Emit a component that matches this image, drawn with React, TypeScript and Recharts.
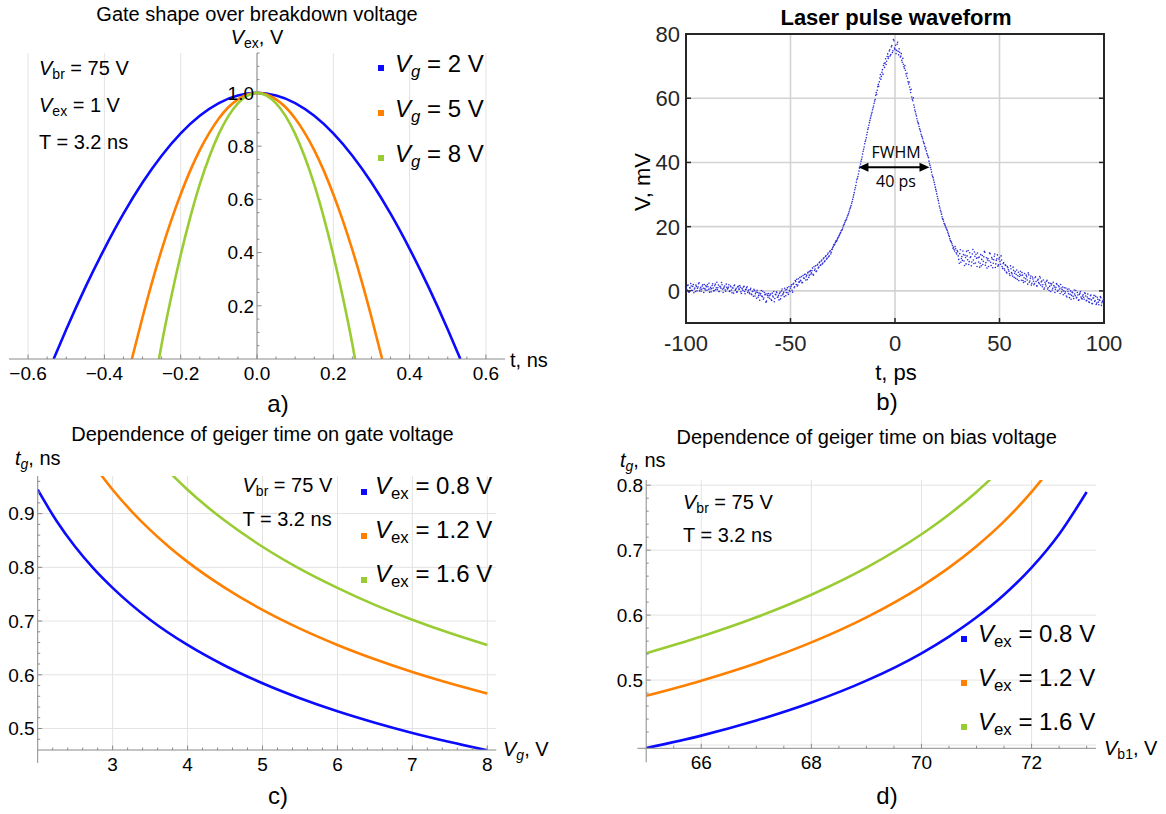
import React from "react"
import {
  CartesianGrid,
  Legend,
  Line,
  LineChart,
  ReferenceDot,
  ReferenceLine,
  Scatter,
  ScatterChart,
  XAxis,
  YAxis,
} from "recharts"

const FONT = '"Liberation Sans", Arial, Helvetica, sans-serif'
const AXIS = "#8a8a8a"
const GRID = "#e3e3e3"
const BOX = "#262626"
const BLUE = "#0b0bff"
const ORANGE = "#ff8000"
const GREEN = "#99cc33"
const DOT = "#2b2bd9"

// a) gate shape, t in ns -> Vex in V
const gateTimeVg2 = [-0.533, -0.5, -0.45, -0.4, -0.35, -0.3, -0.25, -0.2, -0.15, -0.1, -0.05, 0, 0.05, 0.1, 0.15, 0.2, 0.25, 0.3, 0.35, 0.4, 0.45, 0.5, 0.533]
const gateVexVg2 = [0, 0.111, 0.269, 0.414, 0.546, 0.663, 0.764, 0.848, 0.914, 0.962, 0.99, 1, 0.99, 0.962, 0.914, 0.848, 0.764, 0.663, 0.546, 0.414, 0.269, 0.111, 0]
const gateTimeVg5 = [-0.328, -0.3, -0.275, -0.25, -0.225, -0.2, -0.175, -0.15, -0.125, -0.1, -0.075, -0.05, -0.025, 0, 0.025, 0.05, 0.075, 0.1, 0.125, 0.15, 0.175, 0.2, 0.225, 0.25, 0.275, 0.3, 0.328]
const gateVexVg5 = [0, 0.157, 0.289, 0.41, 0.52, 0.619, 0.708, 0.785, 0.85, 0.904, 0.946, 0.976, 0.994, 1, 0.994, 0.976, 0.946, 0.904, 0.85, 0.785, 0.708, 0.619, 0.52, 0.41, 0.289, 0.157, 0]
const gateTimeVg8 = [-0.257, -0.25, -0.225, -0.2, -0.175, -0.15, -0.125, -0.1, -0.075, -0.05, -0.025, 0, 0.025, 0.05, 0.075, 0.1, 0.125, 0.15, 0.175, 0.2, 0.225, 0.25, 0.257]
const gateVexVg8 = [0, 0.055, 0.232, 0.391, 0.532, 0.656, 0.76, 0.846, 0.913, 0.961, 0.99, 1, 0.99, 0.961, 0.913, 0.846, 0.76, 0.656, 0.532, 0.391, 0.232, 0.055, 0]

const aXMajor = [-0.6, -0.4, -0.2, 0, 0.2, 0.4, 0.6]
const aXMinor = [-0.55, -0.5, -0.45, -0.35, -0.3, -0.25, -0.15, -0.1, -0.05, 0.05, 0.1, 0.15, 0.25, 0.3, 0.35, 0.45, 0.5, 0.55]
const aYMajor = [0.2, 0.4, 0.6, 0.8, 1.0]
const aYMinor = [0.05, 0.1, 0.15, 0.25, 0.3, 0.35, 0.45, 0.5, 0.55, 0.65, 0.7, 0.75, 0.85, 0.9, 0.95, 1.05, 1.1, 1.15]

// b) laser pulse, two oscilloscope passes, values in mV
// pass 1 sampled every 0.5 ps from -100 ps, pass 2 every 0.5 ps from -99.75 ps
const pulseStepPs = 0.5
const pulseFirstPs1 = -100
const pulseMv1 = [
  1.2, 0.3, 1.8, -0.4, 0.9, 1.5, 0.1, 2.0, 0.6, -0.2, 1.4, 0.8, 2.2, 0.0, 1.1, 0.5, 1.9, -0.5, 0.7, 1.6,
  0.2, 1.3, 2.4, 0.6, -0.3, 1.7, 0.9, 0.1, 2.1, 1.0, 0.4, 1.8, -0.2, 1.2, 2.6, 0.5, 0.8, 1.5, -0.1, 1.1,
  0.7, 1.9, 0.0, 1.3, -0.6, 0.9, 1.6, 0.2, 0.8, -0.3, 1.4, 0.5, 1.1, -0.8, 0.6, 1.2, -0.2, 0.4, 1.0, -0.5,
  0.3, -0.9, 0.8, -1.2, -0.1, 0.5, -1.6, -0.4, 0.2, -2.0, -0.7, -1.3, 0.1, -1.8, -2.6, -0.5, -1.1, -3.2, -1.4, -0.8,
  -2.3, -1.0, -3.0, -1.6, -0.2, -2.4, -1.2, -0.6, -1.9, -2.8, -0.4, -1.5, 0.6, -0.9, -1.8, 0.3, -0.5, 1.0, -1.1, 0.2,
  0.8, 1.9, -0.4, 2.4, 1.3, 2.9, 3.6, 1.8, 2.7, 4.2, 3.1, 2.5, 4.8, 3.9, 5.2, 4.4, 3.5, 5.9, 4.9, 6.3,
  5.6, 7.1, 4.9, 6.4, 7.8, 6.2, 8.3, 7.4, 9.0, 8.1, 9.6, 8.7, 10.3, 9.4, 11.0, 10.2, 11.8, 10.9, 12.5, 12.0,
  13.0, 13.9, 14.3, 15.1, 15.4, 16.2, 16.8, 17.5, 18.2, 18.9, 19.6, 20.5, 21.3, 22.0, 22.8, 23.6, 24.6, 25.7, 26.6, 27.8,
  29.2, 30.6, 32.1, 33.8, 35.1, 36.4, 38.2, 39.5, 41.0, 42.6, 44.1, 45.8, 47.0, 48.6, 50.3, 51.6, 53.1, 54.5, 55.6, 57.0,
  58.4, 59.6, 61.8, 62.5, 64.3, 65.1, 67.4, 66.8, 68.9, 70.2, 69.6, 72.3, 71.5, 73.8, 72.9, 75.1, 73.6, 76.4, 74.8, 77.9,
  75.2, 73.9, 76.8, 74.6, 75.4, 72.8, 73.9, 71.2, 70.6, 69.3, 68.7, 66.9, 66.2, 64.4, 63.5, 61.8, 60.4, 59.2, 57.9, 56.3,
  55.1, 53.6, 52.4, 51.2, 50.1, 48.8, 47.9, 46.6, 45.8, 44.2, 43.6, 42.3, 41.5, 39.6, 38.4, 37.0, 35.6, 34.5, 33.1, 31.6,
  30.2, 28.7, 27.3, 25.8, 24.6, 23.1, 22.2, 21.0, 20.4, 19.6, 18.9, 17.8, 16.9, 15.7, 15.2, 14.1, 13.6, 12.4, 13.1, 11.5,
  12.2, 9.8, 11.6, 8.9, 10.7, 12.4, 9.3, 11.1, 8.4, 10.9, 12.6, 9.1, 10.4, 7.8, 11.5, 9.6, 12.1, 8.7, 10.2, 11.8,
  9.0, 7.4, 11.3, 9.8, 8.2, 10.6, 12.0, 8.8, 7.1, 10.1, 9.4, 11.6, 7.9, 9.9, 8.6, 10.8, 7.3, 9.5, 11.2, 8.1,
  10.4, 8.3, 9.6, 7.0, 8.8, 6.4, 7.9, 5.6, 7.2, 6.1, 4.8, 6.9, 5.3, 7.4, 4.2, 6.0, 5.1, 3.6, 5.8, 4.5,
  6.1, 3.3, 4.9, 2.6, 5.4, 3.8, 4.4, 2.1, 5.0, 3.1, 4.6, 2.4, 3.7, 1.9, 4.1, 2.9, 1.5, 3.6, 2.2, 4.0,
  2.8, 1.3, 3.4, 0.9, 2.1, 3.0, 0.6, 2.5, 1.4, -0.2, 2.2, 0.8, 1.7, -0.5, 1.1, 2.0, 0.2, 1.3, -0.8, 0.9,
  0.4, -1.2, 1.0, -0.3, -1.6, 0.5, -0.9, -2.1, 0.0, -1.4, -0.6, -2.4, -1.0, 0.1, -2.0, -1.3, -2.8, -0.7, -1.9, -2.5,
  -1.2, -2.6, -0.8, -3.1, -1.9, -2.4, -3.6, -1.5, -2.8, -4.0, -2.2, -3.3, -1.7, -3.8, -2.6, -4.3, -3.0, -2.1, -3.7, -2.9,
  -3.2,
]
const pulseFirstPs2 = -99.75
const pulseMv2 = [
  0.4, 1.7, -0.3, 1.0, 2.3, 0.2, 1.4, -0.6, 0.9, 1.8, 0.0, 1.2, 2.5, 0.6, -0.1, 1.5, 0.8, 2.0, 0.3, 1.3,
  1.9, 0.5, -0.4, 1.1, 0.7, 2.2, 0.0, 1.6, 0.4, 2.7, 1.0, -0.2, 1.4, 0.8, 1.9, -0.5, 1.2, 0.3, 2.1, 0.6,
  1.1, -0.2, 1.5, 0.3, 0.9, -0.7, 1.8, 0.4, -0.4, 1.2, 0.6, 1.7, -0.3, 0.8, 0.1, 1.4, -0.9, 0.5, 1.3, 0.0,
  -0.6, 0.4, -1.0, -0.2, -1.7, 0.1, -0.9, -2.3, -0.5, -1.4, -2.9, -0.8, -1.6, -0.1, -2.2, -1.2, -3.5, -0.9, -2.0, -1.5,
  -1.3, -2.7, -0.7, -1.9, -3.4, -1.1, -0.3, -2.0, -1.4, -0.8, -2.5, 0.0, -1.2, -0.4, 0.8, -1.5, 0.4, -0.6, 1.3, -0.2,
  1.4, 0.2, 2.1, 1.0, 3.2, 2.0, 1.5, 3.8, 2.8, 3.3, 4.5, 2.6, 4.0, 5.1, 3.4, 4.9, 5.6, 4.2, 6.0, 5.2,
  6.3, 5.2, 7.5, 6.8, 6.0, 8.0, 7.1, 8.8, 7.9, 9.3, 8.4, 10.0, 9.1, 10.7, 9.9, 11.4, 10.6, 12.2, 11.5, 12.9,
  13.5, 14.4, 14.6, 15.6, 15.8, 16.6, 17.2, 17.9, 18.7, 19.1, 20.2, 20.8, 21.8, 22.3, 23.3, 24.0, 25.2, 26.1, 27.3, 28.5,
  29.9, 31.5, 32.8, 34.6, 35.6, 37.3, 38.8, 40.4, 41.7, 43.5, 44.8, 46.5, 47.7, 49.4, 50.8, 52.4, 53.8, 55.1, 56.4, 57.6,
  59.1, 60.9, 61.2, 63.6, 63.7, 66.3, 65.9, 68.1, 67.5, 70.8, 71.0, 70.5, 73.0, 72.4, 74.7, 73.2, 76.0, 74.2, 78.3, 75.6,
  76.5, 74.9, 77.4, 73.5, 74.3, 73.1, 71.8, 72.4, 69.8, 70.2, 67.6, 67.8, 65.1, 65.0, 62.6, 62.8, 59.7, 60.1, 57.2, 55.8,
  54.5, 52.9, 52.0, 50.5, 49.6, 48.2, 47.4, 46.1, 45.0, 44.5, 42.8, 42.0, 40.4, 39.1, 37.8, 36.1, 35.2, 33.8, 32.3, 31.0,
  29.4, 28.1, 26.4, 25.1, 23.9, 22.5, 21.7, 20.8, 19.9, 19.2, 18.3, 17.3, 16.2, 15.4, 14.7, 13.3, 12.9, 13.8, 11.9, 12.6,
  10.9, 8.6, 12.8, 10.1, 9.5, 11.3, 7.9, 10.4, 12.3, 9.7, 8.2, 11.9, 10.6, 9.0, 12.9, 8.5, 10.8, 11.4, 7.6, 10.3,
  10.5, 8.6, 7.8, 11.0, 9.2, 12.3, 8.0, 10.3, 9.6, 7.6, 11.8, 8.9, 10.4, 7.2, 9.7, 11.5, 8.4, 10.0, 7.7, 9.9,
  9.2, 10.9, 7.6, 8.5, 6.9, 8.1, 5.9, 7.6, 6.6, 5.3, 7.8, 5.7, 4.6, 6.4, 5.5, 3.9, 6.5, 4.7, 3.2, 5.2,
  4.8, 5.7, 3.2, 4.1, 2.9, 4.9, 3.4, 5.6, 2.7, 3.9, 1.8, 4.3, 3.0, 2.3, 4.4, 1.6, 3.3, 2.6, 4.5, 1.8,
  3.1, 1.9, 0.5, 2.7, 1.5, 3.3, 1.0, 0.1, 2.4, 1.8, 0.3, 2.7, 1.2, 0.5, 2.3, -0.1, 1.6, 0.6, 2.0, -0.3,
  1.2, 0.0, -0.8, 0.9, -1.9, -0.2, 0.6, -1.1, -2.6, -0.4, -1.7, 0.3, -1.5, -2.2, -0.5, -2.9, -1.1, -0.2, -2.3, -1.6,
  -2.0, -0.6, -1.6, -2.9, -1.0, -3.4, -2.5, -1.3, -3.9, -2.2, -1.4, -3.0, -4.2, -2.0, -3.5, -2.8, -1.8, -4.5, -3.3, -2.4,
]
const bXTicks = [-100, -50, 0, 50, 100]
const bYTicks = [0, 20, 40, 60, 80]
const fwhmFromPs = -17.5
const fwhmToPs = 16.5
const fwhmLevelMv = 38.5

// c) geiger time vs gate voltage
const cVgBlue = [2, 2.25, 2.5, 2.75, 3, 3.5, 4, 4.5, 5, 5.5, 6, 6.5, 7, 7.5, 8]
const cTgBlue = [0.9445, 0.8867, 0.8383, 0.7971, 0.7618, 0.7025, 0.6555, 0.6168, 0.5842, 0.5563, 0.532, 0.5107, 0.4917, 0.4748, 0.4594]
const cVgOrange = [2.8, 3, 3.25, 3.5, 3.75, 4, 4.5, 5, 5.5, 6, 6.5, 7, 7.5, 8]
const cTgOrange = [0.9804, 0.9445, 0.9048, 0.8697, 0.8383, 0.8102, 0.7618, 0.7207, 0.6858, 0.6555, 0.6289, 0.6052, 0.5842, 0.5651]
const cVgGreen = [3.75, 4, 4.25, 4.5, 5, 5.5, 6, 6.5, 7, 7.5, 8]
const cTgGreen = [0.9781, 0.9445, 0.914, 0.8867, 0.8383, 0.7971, 0.7618, 0.7301, 0.7025, 0.6777, 0.6555]

const cXMajor = [3, 4, 5, 6, 7, 8]
const cXMinor = [2.2, 2.4, 2.6, 2.8, 3.2, 3.4, 3.6, 3.8, 4.2, 4.4, 4.6, 4.8, 5.2, 5.4, 5.6, 5.8, 6.2, 6.4, 6.6, 6.8, 7.2, 7.4, 7.6, 7.8]
const cYMajor = [0.5, 0.6, 0.7, 0.8, 0.9]
const cYMinor = [0.48, 0.52, 0.54, 0.56, 0.58, 0.62, 0.64, 0.66, 0.68, 0.72, 0.74, 0.76, 0.78, 0.82, 0.84, 0.86, 0.88, 0.92, 0.94, 0.96]

// d) geiger time vs bias voltage
const dVbBlue = [65, 66, 67, 68, 69, 70, 70.5, 71, 71.5, 72, 72.5, 73]
const dTgBlue = [0.3954, 0.4145, 0.4377, 0.4654, 0.4991, 0.5413, 0.567, 0.5966, 0.6314, 0.6731, 0.7245, 0.7896]
const dVbOrange = [65, 66, 67, 68, 69, 70, 70.5, 71, 71.5, 72, 72.25]
const dTgOrange = [0.4758, 0.4991, 0.526, 0.558, 0.5966, 0.6444, 0.6731, 0.7061, 0.7443, 0.7896, 0.8156]
const dVbGreen = [65, 66, 67, 68, 69, 70, 70.5, 71, 71.25]
const dTgGreen = [0.5413, 0.567, 0.5966, 0.6314, 0.6731, 0.7245, 0.755, 0.7896, 0.8089]

const dXMajor = [66, 68, 70, 72]
const dXMinor = [65.5, 66.5, 67, 67.5, 68.5, 69, 69.5, 70.5, 71, 71.5, 72.5, 73]
const dYMajor = [0.5, 0.6, 0.7, 0.8]
const dYGrid = [0.4, 0.5, 0.6, 0.7, 0.8]
const dYMinor = [0.42, 0.44, 0.46, 0.48, 0.52, 0.54, 0.56, 0.58, 0.62, 0.64, 0.66, 0.68, 0.72, 0.74, 0.76, 0.78]

function pairs(xs: number[], ys: number[]) {
  return xs.map((x, i) => ({ x, y: ys[i] }))
}

const pulseData = [
  ...pulseMv1.map((v, i) => ({ t: pulseFirstPs1 + i * pulseStepPs, v })),
  ...pulseMv2.map((v, i) => ({ t: pulseFirstPs2 + i * pulseStepPs, v })),
]

const fmtMinus = (v: number) => (v < 0 ? "\u2212" : "") + Math.abs(v).toFixed(1)
const fmt1 = (v: number) => v.toFixed(1)
const fmtInt = (v: number) => String(v)

const Sub = ({ children }: { children: React.ReactNode }) => (
  <span style={{ fontSize: "0.7em", position: "relative", top: "0.28em" }}>{children}</span>
)

type TxtProps = {
  x: number
  y: number
  size?: number
  center?: boolean
  bold?: boolean
  family?: string
  rotate?: boolean
  children: React.ReactNode
}

// y is the vertical centre of the capitals
function Txt({ x, y, size = 20, center, bold, family = FONT, rotate, children }: TxtProps) {
  const style: React.CSSProperties = {
    position: "absolute",
    left: x,
    top: rotate ? y : y - 0.49 * size,
    fontSize: size,
    lineHeight: 1,
    fontFamily: family,
    fontWeight: bold ? 700 : 400,
    color: "#000",
    whiteSpace: "nowrap",
    transform: rotate ? "translate(-50%, -50%) rotate(-90deg)" : center ? "translateX(-50%)" : undefined,
  }
  return <div style={style}>{children}</div>
}

type TickArgs = { x?: number; y?: number; payload?: { value: number } }

function MmaXTick({ x = 0, y = 0, payload, majors, fmt }: TickArgs & { majors: number[]; fmt: (v: number) => string }) {
  const v = payload?.value ?? 0
  const major = majors.includes(v)
  return (
    <g>
      <line x1={x} x2={x} y1={y} y2={y - (major ? 4.5 : 2.5)} stroke={AXIS} />
      {major && (
        <text x={x} y={y + 21} textAnchor="middle" fontSize={19} fontFamily={FONT} fill="#000">
          {fmt(v)}
        </text>
      )}
    </g>
  )
}

function MmaYTick({ x = 0, y = 0, payload, majors, fmt }: TickArgs & { majors: number[]; fmt: (v: number) => string }) {
  const v = payload?.value ?? 0
  const major = majors.includes(v)
  return (
    <g>
      <line x1={x} x2={x + (major ? 4.5 : 2.5)} y1={y} y2={y} stroke={AXIS} />
      {major && (
        <text x={x - 3} y={y + 6.8} textAnchor="end" fontSize={19} fontFamily={FONT} fill="#000">
          {fmt(v)}
        </text>
      )}
    </g>
  )
}

function BoxTick({ x = 0, y = 0, payload, side }: TickArgs & { side: "bottom" | "top" | "left" | "right" }) {
  const v = payload?.value ?? 0
  const len = 5
  const label = { fontSize: 22, fontFamily: FONT, fill: BOX }
  if (side === "bottom")
    return (
      <g>
        <line x1={x} x2={x} y1={y} y2={y - len} stroke={BOX} strokeWidth={1.5} />
        <text x={x} y={y + 28} textAnchor="middle" {...label}>{v}</text>
      </g>
    )
  if (side === "left")
    return (
      <g>
        <line x1={x} x2={x + len} y1={y} y2={y} stroke={BOX} strokeWidth={1.5} />
        <text x={x - 6} y={y + 7.9} textAnchor="end" {...label}>{v}</text>
      </g>
    )
  if (side === "top") return <line x1={x} x2={x} y1={y} y2={y + len} stroke={BOX} strokeWidth={1.5} />
  return <line x1={x} x2={x - len} y1={y} y2={y} stroke={BOX} strokeWidth={1.5} />
}

function SeriesLegend({ payload, sub, italicSub, rowGap, squareTop, textLeft }: any) {
  return (
    <div style={{ position: "relative", fontFamily: FONT, fontSize: 24, lineHeight: 1, color: "#000" }}>
      {(payload || []).map((item: any, i: number) => (
        <div key={String(item.value)} style={{ position: "absolute", left: 0, top: i * rowGap, whiteSpace: "nowrap" }}>
          <span style={{ position: "absolute", left: 0, top: squareTop, width: 6, height: 6, background: item.color }} />
          <span style={{ position: "absolute", left: textLeft, top: 0 }}>
            <i>V</i>
            <Sub>{italicSub ? <i>{sub}</i> : sub}</Sub> = {item.value}
          </span>
        </div>
      ))}
    </div>
  )
}

function Arrow(props: any) {
  const { x1, y1, x2 } = props
  const head = 10
  const half = 4.5
  return (
    <g>
      <line x1={x1 + head - 1} x2={x2 - head + 1} y1={y1} y2={y1} stroke="#000" strokeWidth={2.2} />
      <path d={`M${x1},${y1} L${x1 + head},${y1 - half} L${x1 + head},${y1 + half} Z`} fill="#000" />
      <path d={`M${x2},${y1} L${x2 - head},${y1 - half} L${x2 - head},${y1 + half} Z`} fill="#000" />
    </g>
  )
}

// axes get a 1px band: recharts skips drawing an axis whose width or height is 0
function GateShapeChart() {
  return (
    <LineChart width={583} height={410} margin={{ top: 53, right: 78, bottom: 50, left: 8 }}>
      <CartesianGrid stroke={GRID} verticalValues={aXMajor} horizontalValues={aYMajor} />
      <XAxis
        type="number"
        dataKey="x"
        domain={[-0.65, 0.65]}
        allowDataOverflow
        ticks={[...aXMajor, ...aXMinor]}
        interval={0}
        height={1}
        tickSize={0}
        tickMargin={0}
        axisLine={{ stroke: AXIS }}
        tickLine={false}
        tick={<MmaXTick majors={aXMajor} fmt={fmtMinus} />}
      />
      <YAxis type="number" domain={[0, 1.15]} allowDataOverflow width={1} ticks={aYMajor} axisLine={false} tickLine={false} tick={false} />
      <ReferenceLine x={0} stroke={AXIS} />
      {aYMajor.map((v) => (
        <ReferenceLine key={"M" + v} segment={[{ x: 0, y: v }, { x: 0.012, y: v }]} stroke={AXIS} />
      ))}
      {aYMinor.map((v) => (
        <ReferenceLine key={"m" + v} segment={[{ x: 0, y: v }, { x: 0.0065, y: v }]} stroke={AXIS} />
      ))}
      {aYMajor.map((v) => (
        <ReferenceDot
          key={"l" + v}
          x={0}
          y={v}
          r={0}
          fill="none"
          stroke="none"
          label={{ value: fmt1(v), position: "left", offset: 3, fontSize: 19, fontFamily: FONT, fill: "#000" }}
        />
      ))}
      <Line data={pairs(gateTimeVg2, gateVexVg2)} dataKey="y" name="2 V" type="monotone" stroke={BLUE} strokeWidth={2.6} dot={false} activeDot={false} isAnimationActive={false} />
      <Line data={pairs(gateTimeVg5, gateVexVg5)} dataKey="y" name="5 V" type="monotone" stroke={ORANGE} strokeWidth={2.6} dot={false} activeDot={false} isAnimationActive={false} />
      <Line data={pairs(gateTimeVg8, gateVexVg8)} dataKey="y" name="8 V" type="monotone" stroke={GREEN} strokeWidth={2.6} dot={false} activeDot={false} isAnimationActive={false} />
      <Legend
        layout="vertical"
        align="center"
        verticalAlign="middle"
        wrapperStyle={{ left: 378, top: 52, width: 200, height: 140 }}
        content={(p: any) => <SeriesLegend payload={p.payload} sub="g" italicSub rowGap={45} squareTop={13} textLeft={17} />}
      />
    </LineChart>
  )
}

function PulseChart() {
  const axisLine = { stroke: BOX, strokeWidth: 2, strokeLinecap: "square" as const }
  return (
    <ScatterChart width={583} height={410} margin={{ top: 33, right: 61, bottom: 86, left: 102 }}>
      <CartesianGrid stroke="#d3d3d3" strokeWidth={1.6} verticalValues={bXTicks} horizontalValues={bYTicks} />
      <XAxis type="number" dataKey="t" domain={[-100, 100]} allowDataOverflow ticks={bXTicks} interval={0} height={1} tickSize={0} tickMargin={0} axisLine={axisLine} tickLine={false} tick={<BoxTick side="bottom" />} />
      <XAxis xAxisId="top" orientation="top" type="number" domain={[-100, 100]} allowDataOverflow ticks={bXTicks} interval={0} height={1} tickSize={0} tickMargin={0} axisLine={axisLine} tickLine={false} tick={<BoxTick side="top" />} />
      <YAxis type="number" dataKey="v" domain={[-10, 80]} allowDataOverflow ticks={bYTicks} interval={0} width={1} tickSize={0} tickMargin={0} axisLine={axisLine} tickLine={false} tick={<BoxTick side="left" />} />
      <YAxis yAxisId="right" orientation="right" type="number" domain={[-10, 80]} allowDataOverflow ticks={bYTicks} interval={0} width={1} tickSize={0} tickMargin={0} axisLine={axisLine} tickLine={false} tick={<BoxTick side="right" />} />
      <Scatter data={pulseData} fill={DOT} isAnimationActive={false} shape={(p: any) => <circle cx={p.cx} cy={p.cy} r={0.8} fill={DOT} />} />
      <ReferenceLine segment={[{ x: fwhmFromPs, y: fwhmLevelMv }, { x: fwhmToPs, y: fwhmLevelMv }]} shape={(p: any) => <Arrow {...p} />} />
    </ScatterChart>
  )
}

function GateVoltageChart() {
  return (
    <LineChart width={583} height={404} margin={{ top: 66, right: 86.7, bottom: 63, left: 36.7 }}>
      <CartesianGrid stroke={GRID} verticalValues={cXMajor} horizontalValues={cYMajor} />
      <XAxis type="number" dataKey="x" domain={[2, 8.12]} allowDataOverflow ticks={[...cXMajor, ...cXMinor]} interval={0} height={1} tickSize={0} tickMargin={0} axisLine={{ stroke: AXIS }} tickLine={false} tick={<MmaXTick majors={cXMajor} fmt={fmtInt} />} />
      <YAxis type="number" domain={[0.46, 0.97]} allowDataOverflow ticks={[...cYMajor, ...cYMinor]} interval={0} width={1} tickSize={0} tickMargin={0} axisLine={{ stroke: AXIS }} tickLine={false} tick={<MmaYTick majors={cYMajor} fmt={fmt1} />} />
      {/* the vertical axis runs a little past the horizontal one, as in the original */}
      <ReferenceLine segment={[{ x: 2, y: 0.46 }, { x: 2, y: 0.436 }]} stroke={AXIS} ifOverflow="visible" />
      <Line data={pairs(cVgBlue, cTgBlue)} dataKey="y" name="0.8 V" type="monotone" stroke={BLUE} strokeWidth={2.6} dot={false} activeDot={false} isAnimationActive={false} />
      <Line data={pairs(cVgOrange, cTgOrange)} dataKey="y" name="1.2 V" type="monotone" stroke={ORANGE} strokeWidth={2.6} dot={false} activeDot={false} isAnimationActive={false} />
      <Line data={pairs(cVgGreen, cTgGreen)} dataKey="y" name="1.6 V" type="monotone" stroke={GREEN} strokeWidth={2.6} dot={false} activeDot={false} isAnimationActive={false} />
      <Legend
        layout="vertical"
        align="center"
        verticalAlign="middle"
        wrapperStyle={{ left: 361, top: 64, width: 200, height: 140 }}
        content={(p: any) => <SeriesLegend payload={p.payload} sub="ex" rowGap={44} squareTop={14.7} textLeft={14} />}
      />
    </LineChart>
  )
}

function BiasChart() {
  return (
    <LineChart width={583} height={404} margin={{ top: 70, right: 70, bottom: 64.7, left: 62.2 }}>
      <CartesianGrid stroke={GRID} verticalValues={dXMajor} horizontalValues={dYGrid} />
      <XAxis type="number" dataKey="x" domain={[65, 73.17]} allowDataOverflow ticks={[...dXMajor, ...dXMinor]} interval={0} height={1} tickSize={0} tickMargin={0} axisLine={{ stroke: AXIS }} tickLine={false} tick={<MmaXTick majors={dXMajor} fmt={fmtInt} />} />
      <YAxis type="number" domain={[0.395, 0.808]} allowDataOverflow ticks={[...dYMajor, ...dYMinor]} interval={0} width={1} tickSize={0} tickMargin={0} axisLine={{ stroke: AXIS }} tickLine={false} tick={<MmaYTick majors={dYMajor} fmt={fmt1} />} />
      {/* both axes overshoot the crossing point slightly */}
      <ReferenceLine segment={[{ x: 65, y: 0.395 }, { x: 65, y: 0.3735 }]} stroke={AXIS} ifOverflow="visible" />
      <ReferenceLine segment={[{ x: 65, y: 0.395 }, { x: 64.84, y: 0.395 }]} stroke={AXIS} ifOverflow="visible" />
      <Line data={pairs(dVbBlue, dTgBlue)} dataKey="y" name="0.8 V" type="monotone" stroke={BLUE} strokeWidth={2.6} dot={false} activeDot={false} isAnimationActive={false} />
      <Line data={pairs(dVbOrange, dTgOrange)} dataKey="y" name="1.2 V" type="monotone" stroke={ORANGE} strokeWidth={2.6} dot={false} activeDot={false} isAnimationActive={false} />
      <Line data={pairs(dVbGreen, dTgGreen)} dataKey="y" name="1.6 V" type="monotone" stroke={GREEN} strokeWidth={2.6} dot={false} activeDot={false} isAnimationActive={false} />
      <Legend
        layout="vertical"
        align="center"
        verticalAlign="middle"
        wrapperStyle={{ left: 378.3, top: 212, width: 200, height: 140 }}
        content={(p: any) => <SeriesLegend payload={p.payload} sub="ex" rowGap={44} squareTop={14} textLeft={16.7} />}
      />
    </LineChart>
  )
}

export default function App() {
  return (
    <div style={{ position: "absolute", left: 0, top: 0, width: 1166, height: 814, background: "#fff", overflow: "hidden" }}>
      <div style={{ position: "absolute", left: 0, top: 0 }}>
        <GateShapeChart />
      </div>
      <div style={{ position: "absolute", left: 583, top: 0 }}>
        <PulseChart />
      </div>
      <div style={{ position: "absolute", left: 0, top: 410 }}>
        <GateVoltageChart />
      </div>
      <div style={{ position: "absolute", left: 583, top: 410 }}>
        <BiasChart />
      </div>

      {/* a) */}
      <Txt x={257} y={14} center>Gate shape over breakdown voltage</Txt>
      <Txt x={257} y={36.5} center>
        <i>V</i><Sub>ex</Sub>, V
      </Txt>
      <Txt x={510} y={359.5}>t, ns</Txt>
      <Txt x={39} y={68}>
        <i>V</i><Sub>br</Sub> = 75 V
      </Txt>
      <Txt x={39} y={104.7}>
        <i>V</i><Sub>ex</Sub> = 1 V
      </Txt>
      <Txt x={39} y={141.7}>T = 3.2 ns</Txt>
      <Txt x={278} y={404} size={24} center>a)</Txt>

      {/* b) */}
      <Txt x={896} y={17.5} size={22} bold center>Laser pulse waveform</Txt>
      <Txt x={643} y={182} size={22} rotate>V, mV</Txt>
      <Txt x={896} y={373} size={22} center>t, ps</Txt>
      <Txt x={896} y={152} size={16} center family='"Open Sans", "Noto Sans", sans-serif'>FWHM</Txt>
      <Txt x={896} y={181} size={16} center family='"Open Sans", "Noto Sans", sans-serif'>40 ps</Txt>
      <Txt x={887} y={402} size={24} center>b)</Txt>

      {/* c) */}
      <Txt x={262.5} y={434} center>Dependence of geiger time on gate voltage</Txt>
      <Txt x={15} y={457.5}>
        <i>t</i><Sub><i>g</i></Sub>, ns
      </Txt>
      <Txt x={503} y={749}>
        <i>V</i><Sub><i>g</i></Sub>, V
      </Txt>
      <Txt x={242.5} y={484.5}>
        <i>V</i><Sub>br</Sub> = 75 V
      </Txt>
      <Txt x={242.5} y={519}>T = 3.2 ns</Txt>
      <Txt x={278} y={796} size={24} center>c)</Txt>

      {/* d) */}
      <Txt x={866.7} y={437} center>Dependence of geiger time on bias voltage</Txt>
      <Txt x={620} y={460}>
        <i>t</i><Sub><i>g</i></Sub>, ns
      </Txt>
      <Txt x={1104} y={748}>
        <i>V</i><Sub>b1</Sub>, V
      </Txt>
      <Txt x={683} y={501.7}>
        <i>V</i><Sub>br</Sub> = 75 V
      </Txt>
      <Txt x={683} y={535}>T = 3.2 ns</Txt>
      <Txt x={887} y={796} size={24} center>d)</Txt>
    </div>
  )
}
